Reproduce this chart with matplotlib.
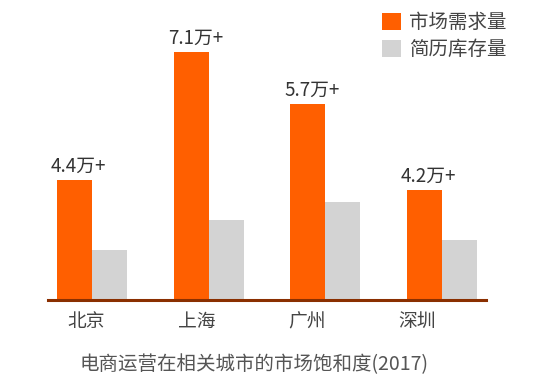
import matplotlib

matplotlib.use("Agg")

import matplotlib.pyplot as plt
import numpy as np

plt.rcParams["font.family"] = ["Noto Sans CJK SC", "DejaVu Sans"]
plt.rcParams["font.weight"] = "light"

cities = ["北京", "上海", "广州", "深圳"]
series_names = ["市场需求量", "简历库存量"]
# bar heights as drawn (arbitrary unit, Shanghai demand = 7.1)
demand = [3.44, 7.1, 5.61, 3.15]
resume_stock = [1.43, 2.29, 2.81, 1.72]
demand_labels = ["4.4万+", "7.1万+", "5.7万+", "4.2万+"]
caption = "电商运营在相关城市的市场饱和度(2017)"

ORANGE = "#ff5f00"
GRAY = "#d3d3d3"
AXIS = "#8a2f00"

fig = plt.figure(figsize=(5.5, 3.9), dpi=100)
ax = fig.add_axes([48 / 550, 1 - 300 / 390, 438 / 550, 300 / 390])

x = np.arange(len(cities))
width = 0.3
ax.bar(x - width / 2, demand, width, color=ORANGE, label=series_names[0])
ax.bar(x + width / 2, resume_stock, width, color=GRAY, label=series_names[1])

for xi, h, lab in zip(x, demand, demand_labels):
    ax.annotate(lab, (xi - width / 2 + 0.035, h), xytext=(0, 6),
                textcoords="offset points", ha="center", va="baseline",
                fontsize=13.5, color="#333333")

ax.set_xlim(-0.377, 3.376)
ax.set_ylim(0, 8.6)
for side in ("top", "right", "left"):
    ax.spines[side].set_visible(False)
ax.spines["bottom"].set_color(AXIS)
ax.spines["bottom"].set_linewidth(2.2)
ax.set_yticks([])
ax.set_xticks(x * 0.945 - 0.05)
ax.set_xticklabels(cities, fontsize=13.5, color="#444444")
ax.tick_params(axis="x", length=0, pad=8)

fig.legend(loc="upper left", bbox_to_anchor=(382 / 550, 1 - 12 / 390),
           frameon=False, fontsize=14, handlelength=1.0, handleheight=1.0,
           labelspacing=0.32, handletextpad=0.4, borderpad=0,
           borderaxespad=0, labelcolor="#444444")

fig.text(254 / 550, 1 - 365 / 390, caption, ha="center", va="center",
         fontsize=14, color="#555555")

fig.savefig("out.png", dpi=100)
